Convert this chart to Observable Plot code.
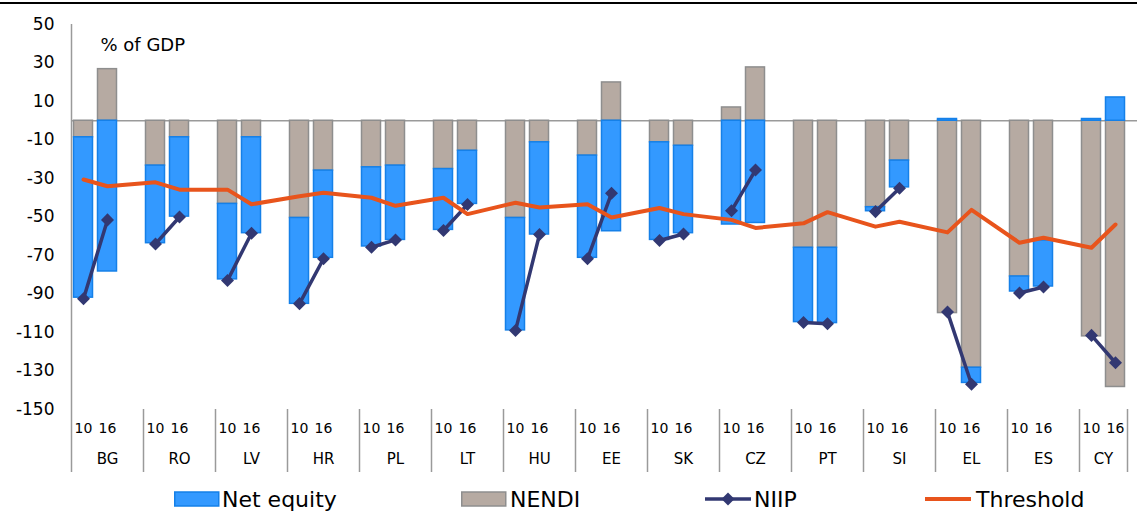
<!DOCTYPE html>
<html>
<head>
<meta charset="utf-8">
<script src="https://cdn.jsdelivr.net/npm/d3@7"></script>
<script src="https://cdn.jsdelivr.net/npm/@observablehq/plot@0.6"></script>
<style>
  html, body { margin: 0; padding: 0; background: #fff; }
  body { font-family: "DejaVu Sans", Verdana, sans-serif; }
  #wrap { position: relative; width: 1137px; height: 511px; overflow: hidden; background: #fff; }
  #topline { position: absolute; left: 0; top: 2px; width: 1137px; height: 1.5px; background: #000; }
  #chart { position: absolute; left: 0; top: 0; }
  #legend { position: absolute; left: 0; top: 480px; }
</style>
</head>
<body>
<div id="wrap">
  <div id="chart"></div>
  <div id="topline"></div>
  <div id="legend"></div>
</div>
<script>
// ---------- data ----------
const countries = ["BG","RO","LV","HR","PL","LT","HU","EE","SK","CZ","PT","SI","EL","ES","CY"];
const years = ["10", "16"];
const netEquity10 = [-83.3, -40.3, -39.2, -44.6, -41.1, -31.6, -58.4, -53.1, -50.7, -53.9, -38.6, -2.1, 0.9, -7.8, 0.9];
const netEquity16 = [-78.3, -41.2, -49.8, -45.3, -38.6, -27.6, -47.9, -57.4, -45.4, -53.1, -39.1, -13.9, -7.9, -23.9, 12.1];
const nendi10 = [-8.6, -23.3, -43.2, -50.5, -24.2, -25.1, -50.5, -18.1, -11.2, 6.9, -66.0, -44.9, -99.9, -80.9, -112.0];
const nendi16 = [26.8, -8.6, -8.6, -25.9, -23.3, -15.6, -11.2, 19.9, -13.0, 27.7, -66.0, -20.7, -128.3, -62.2, -138.3];
const niip10 = [-92.5, -64.0, -83.0, -95.0, -65.7, -57.0, -109.0, -71.7, -62.2, -46.7, -104.8, -47.2, -99.4, -89.5, -111.5];
const niip16 = [-51.5, -50.0, -58.4, -71.7, -61.9, -43.5, -59.1, -37.7, -58.8, -25.6, -105.4, -35.1, -136.9, -86.4, -125.7];
const threshold10 = [-30.5, -32.0, -35.8, -39.2, -40.0, -40.0, -42.6, -43.4, -45.3, -51.5, -53.3, -55.0, -58.0, -63.4, -66.0];
const threshold16 = [-34.0, -35.8, -43.4, -37.4, -44.2, -48.5, -45.1, -50.3, -48.5, -55.7, -47.5, -52.5, -46.3, -60.8, -53.9];
const yTicks = [-150, -130, -110, -90, -70, -50, -30, -10, 10, 30, 50];
const seriesNames = ["Net equity", "NENDI", "NIIP", "Threshold"];
const unitLabel = "% of GDP";

// ---------- styles ----------
const fillColor = {"Net equity": "#3399ff", "NENDI": "#b6aaa2"};
const edgeColor = {"Net equity": "#1580e8", "NENDI": "#8e8e8e"};
const niipColor = "#323872";
const thresholdColor = "#e8541c";
const axisGray = "#9a9a9a";

// ---------- derived tables ----------
const slots = [];
countries.forEach((c, k) => {
  slots.push(c + "|10", c + "|16");
  if (k < countries.length - 1) slots.push(c + "|");
});

const bars = [];
const niip = [];
const thresh = [];
const yearLabels = [];
countries.forEach((c, k) => {
  const vals = {
    "10": {ne: netEquity10[k], nd: nendi10[k], n: niip10[k], t: threshold10[k]},
    "16": {ne: netEquity16[k], nd: nendi16[k], n: niip16[k], t: threshold16[k]}
  };
  years.forEach(yr => {
    const slot = c + "|" + yr;
    bars.push({slot, series: "NENDI", value: vals[yr].nd});
    bars.push({slot, series: "Net equity", value: vals[yr].ne});
    niip.push({slot, country: c, value: vals[yr].n});
    thresh.push({slot, value: vals[yr].t});
    yearLabels.push({slot, text: yr});
  });
});
const groupEnds = countries.map((c, k) => k < countries.length - 1 ? c + "|" : c + "|16");
const labelsMain = countries.slice(0, -1).map(c => ({slot: c + "|16", text: c}));
const labelsLast = countries.slice(-1).map(c => ({slot: c + "|10", text: c}));

const diamond = {
  draw(context, size) {
    const r = Math.sqrt(size / 2);
    context.moveTo(0, -r);
    context.lineTo(r, 0);
    context.lineTo(0, r);
    context.lineTo(-r, 0);
    context.closePath();
  }
};

const chart = Plot.plot({
  width: 1137,
  height: 480,
  marginLeft: 71,
  marginRight: 10,
  marginTop: 24,
  marginBottom: 71,
  style: {fontFamily: "DejaVu Sans, Verdana, sans-serif", fontSize: "17px", background: "transparent", overflow: "visible", color: "#000"},
  x: {type: "band", domain: slots, padding: 0, axis: null},
  y: {domain: [-150, 50], axis: null},
  color: {type: "identity"},
  marks: [
    Plot.ruleY([0], {stroke: axisGray, strokeWidth: 1.5, insetRight: -10}),
    Plot.barY(bars, Plot.stackY({
      x: "slot", y: "value", z: "series",
      order: ["NENDI", "Net equity"],
      fill: d => fillColor[d.series],
      stroke: d => edgeColor[d.series],
      strokeWidth: 1.5,
      insetLeft: 2.5, insetRight: 2.5
    })),
    Plot.axisY({ticks: yTicks, tickSize: 0, tickPadding: 17, fontSize: 17, label: null, tickFormat: d => String(d)}),
    // left axis line
    Plot.ruleX([slots[0]], {x: d => d, dx: -12, stroke: axisGray, strokeWidth: 1.5, insetBottom: -63}),
    // category separators
    Plot.ruleX(groupEnds, {x: d => d, dx: 12, stroke: axisGray, strokeWidth: 1.5, insetTop: 385, insetBottom: -63}),
    Plot.text(yearLabels, {x: "slot", text: "text", frameAnchor: "bottom", dy: 23, fontSize: 14}),
    Plot.text(labelsMain, {x: "slot", text: "text", frameAnchor: "bottom", dy: 54, fontSize: 15}),
    Plot.text(labelsLast, {x: "slot", text: "text", frameAnchor: "bottom", dy: 54, dx: 12, fontSize: 15}),
    Plot.text([unitLabel], {text: d => d, frameAnchor: "top-left", dx: 29, dy: 14, textAnchor: "start", fontSize: 18}),
    Plot.line(niip, {x: "slot", y: "value", z: "country", stroke: niipColor, strokeWidth: 3.5}),
    Plot.dot(niip, {x: "slot", y: "value", symbol: diamond, r: 5.2, fill: niipColor, stroke: "none"}),
    Plot.line(thresh, {x: "slot", y: "value", stroke: thresholdColor, strokeWidth: 4, strokeLinejoin: "round"})
  ]
});
document.getElementById("chart").appendChild(chart);

// ---------- legend ----------
const lg = d3.select("#legend").append("svg")
  .attr("width", 1137).attr("height", 31)
  .style("font-family", "DejaVu Sans, Verdana, sans-serif");
const cy = 19;
const items = [
  {name: seriesNames[0], kind: "box", x: 174, tx: 222},
  {name: seriesNames[1], kind: "box", x: 461, tx: 510},
  {name: seriesNames[2], kind: "marker", x: 705, tx: 754},
  {name: seriesNames[3], kind: "line", x: 925, tx: 976}
];
items.forEach(it => {
  if (it.kind === "box") {
    lg.append("rect").attr("x", it.x + 0.75).attr("y", cy - 7).attr("width", 44).attr("height", 14)
      .attr("fill", fillColor[it.name]).attr("stroke", edgeColor[it.name]).attr("stroke-width", 1.5);
  } else if (it.kind === "marker") {
    lg.append("line").attr("x1", it.x).attr("x2", it.x + 46).attr("y1", cy).attr("y2", cy)
      .attr("stroke", niipColor).attr("stroke-width", 3.5);
    const m = it.x + 23;
    lg.append("path").attr("d", `M${m},${cy - 6.5}L${m + 6.5},${cy}L${m},${cy + 6.5}L${m - 6.5},${cy}Z`).attr("fill", niipColor);
  } else {
    lg.append("line").attr("x1", it.x).attr("x2", it.x + 46).attr("y1", cy).attr("y2", cy)
      .attr("stroke", thresholdColor).attr("stroke-width", 4);
  }
  lg.append("text").attr("x", it.tx).attr("y", cy).attr("dy", "0.36em")
    .attr("font-size", 22).attr("fill", "#000").text(it.name);
});
</script>
</body>
</html>
